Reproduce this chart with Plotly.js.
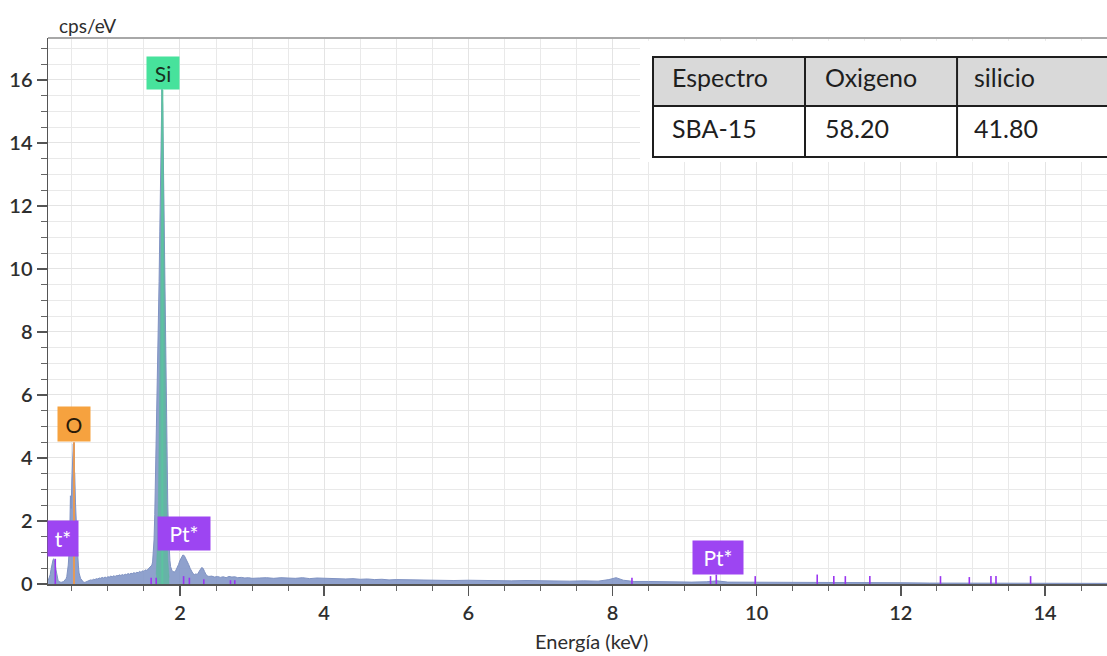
<!DOCTYPE html>
<html>
<head>
<meta charset="utf-8">
<script src="https://cdn.plot.ly/plotly-3.0.1.min.js"></script>
<style>
  html, body { margin: 0; padding: 0; background: #ffffff; }
  #chart { width: 1107px; height: 656px; }
</style>
</head>
<body>
<div id="chart"></div>
<script>
// EDS spectrum of SBA-15: energy (keV) and intensity (cps/eV)
const energy = [
  0.17, 0.18, 0.19, 0.20, 0.21, 0.22, 0.23, 0.24, 0.25, 0.26, 0.27, 0.28, 0.29, 0.30,
  0.31, 0.32, 0.33, 0.34, 0.35, 0.36, 0.37, 0.38, 0.39, 0.40, 0.41, 0.42, 0.43, 0.44,
  0.45, 0.46, 0.47, 0.48, 0.49, 0.50, 0.51, 0.52, 0.53, 0.54, 0.55, 0.56, 0.57, 0.58,
  0.59, 0.60, 0.62, 0.64, 0.66, 0.68, 0.70, 0.72, 0.74, 0.76, 0.78, 0.80,
  0.82, 0.84, 0.86, 0.88, 0.90, 0.92, 0.94, 0.96, 0.98, 1.00, 1.02, 1.04, 1.06, 1.08,
  1.10, 1.12, 1.14, 1.16, 1.18, 1.20, 1.22, 1.24, 1.26, 1.28, 1.30, 1.32, 1.34, 1.36,
  1.38, 1.40, 1.42, 1.44, 1.46, 1.48, 1.50, 1.52, 1.54, 1.56, 1.58,
  1.60, 1.61, 1.62, 1.63, 1.64, 1.65, 1.66, 1.67, 1.68, 1.69, 1.70, 1.71, 1.72, 1.73,
  1.74, 1.75, 1.76, 1.77, 1.78, 1.79, 1.80, 1.81, 1.82, 1.83, 1.84, 1.85, 1.86, 1.87,
  1.88, 1.89, 1.90, 1.92, 1.94, 1.96, 1.98, 2.00, 2.02, 2.04, 2.06, 2.08, 2.10, 2.12,
  2.14, 2.16, 2.18, 2.20, 2.22, 2.24, 2.26, 2.28, 2.30, 2.32, 2.34, 2.36, 2.38, 2.40,
  2.44, 2.48, 2.52, 2.56, 2.60, 2.64, 2.68, 2.72, 2.76, 2.80, 2.85, 2.90, 2.95, 3.00,
  3.10, 3.20, 3.30, 3.40, 3.50, 3.60, 3.70, 3.80, 3.90, 4.00, 4.10, 4.20, 4.30, 4.40,
  4.50, 4.60, 4.70, 4.80, 4.90, 5.00, 5.20, 5.40, 5.60, 5.80, 6.00, 6.20, 6.40, 6.60,
  6.80, 7.00, 7.20, 7.40, 7.60, 7.80, 7.95, 8.05, 8.15, 8.30, 8.50, 8.70, 8.90, 9.10,
  9.30, 9.45, 9.60, 9.80, 10.00, 10.30, 10.60, 10.90, 11.10, 11.40, 11.70, 12.00,
  12.40, 12.80, 13.20, 13.60, 14.00, 14.40, 14.86
];
const counts = [
  0.10, 0.15, 0.20, 0.30, 0.45, 0.60, 0.72, 0.78, 0.80, 0.72, 0.62, 0.45, 0.30, 0.18,
  0.10, 0.08, 0.06, 0.05, 0.05, 0.06, 0.06, 0.07, 0.09, 0.12, 0.14, 0.17, 0.24, 0.36,
  0.60, 0.95, 1.50, 2.80, 2.40, 3.30, 3.90, 4.45, 3.70, 3.50, 2.60, 2.20, 1.60, 1.00,
  0.60, 0.35, 0.18, 0.10, 0.06, 0.05, 0.07, 0.09, 0.11, 0.13, 0.12, 0.15,
  0.14, 0.17, 0.16, 0.19, 0.18, 0.21, 0.19, 0.22, 0.20, 0.23, 0.22, 0.25, 0.23, 0.26,
  0.24, 0.27, 0.26, 0.29, 0.27, 0.30, 0.28, 0.31, 0.30, 0.33, 0.31, 0.34, 0.33, 0.36,
  0.34, 0.37, 0.36, 0.40, 0.37, 0.42, 0.40, 0.45, 0.43, 0.48, 0.50,
  0.55, 0.60, 0.70, 0.95, 1.40, 2.20, 3.30, 4.60, 5.90, 7.00, 8.20, 9.60, 11.20, 13.00,
  14.60, 15.80, 15.20, 13.40, 10.50, 8.00, 6.40, 5.00, 3.80, 2.60, 1.70, 1.10, 0.75, 0.55,
  0.45, 0.42, 0.40, 0.38, 0.42, 0.50, 0.62, 0.75, 0.85, 0.92, 0.90, 0.82, 0.70, 0.62,
  0.50, 0.40, 0.33, 0.30, 0.32, 0.30, 0.36, 0.45, 0.52, 0.50, 0.40, 0.30, 0.26, 0.24,
  0.25, 0.22, 0.24, 0.21, 0.23, 0.20, 0.24, 0.22, 0.23, 0.20, 0.21, 0.19, 0.20, 0.18,
  0.19, 0.20, 0.18, 0.20, 0.19, 0.18, 0.20, 0.17, 0.19, 0.18, 0.17, 0.18, 0.16, 0.17,
  0.15, 0.16, 0.14, 0.15, 0.13, 0.14, 0.13, 0.12, 0.13, 0.11, 0.12, 0.11, 0.12, 0.10,
  0.11, 0.10, 0.11, 0.09, 0.10, 0.09, 0.14, 0.20, 0.12, 0.08, 0.08, 0.07, 0.07, 0.06,
  0.07, 0.10, 0.06, 0.06, 0.05, 0.05, 0.04, 0.05, 0.05, 0.04, 0.04, 0.04,
  0.03, 0.03, 0.03, 0.03, 0.03, 0.02, 0.02
];

// Si K peak fit
const siFitEnergy = [1.67, 1.68, 1.69, 1.70, 1.71, 1.72, 1.73, 1.74, 1.75, 1.76,
                     1.77, 1.78, 1.79, 1.80, 1.81, 1.82, 1.83, 1.84, 1.85];
const siFitCounts = [0.30, 0.80, 1.50, 2.60, 4.20, 6.40, 9.20, 12.2, 14.8, 15.0,
                     12.6, 9.40, 6.50, 4.20, 2.60, 1.50, 0.80, 0.40, 0.20];

// Pt line markers (keV) and their heights
const ptLines = [0.27, 1.60, 1.67, 2.05, 2.13, 2.33, 2.70, 2.76, 8.27, 9.36, 9.44,
                 9.98, 10.84, 11.07, 11.23, 11.57, 12.55, 12.95, 13.25, 13.32, 13.80];
const ptHeights = [0.80, 0.20, 0.20, 0.25, 0.20, 0.15, 0.12, 0.12, 0.20, 0.25, 0.30,
                   0.25, 0.30, 0.25, 0.25, 0.25, 0.25, 0.22, 0.25, 0.25, 0.25];

// Element labels
const labelText = ['Si', 'O', 'Pt*', 'Pt*', 't*'];
const labelEnergy = [1.765, 0.53, 2.056, 9.465, 0.378];
const labelBase = [15.68, 4.50, 1.05, 0.29, 0.86];
const labelLineEnergy = [1.755, 0.53];
const labelLineTop = [15.68, 4.50];

// Quantification table
const tableHeader = ['Espectro', 'Oxigeno', 'silicio'];
const tableRow = ['SBA-15', '58.20', '41.80'];

const FONT = 'Lato, "Open Sans", sans-serif';
const labelStyle = [
  { bg: '#47e29c', fg: '#17301f', w: 28, h: 28 },
  { bg: '#f6a23f', fg: '#2a1a08', w: 28, h: 30 },
  { bg: '#9d45f2', fg: '#ffffff', w: 48, h: 29 },
  { bg: '#9d45f2', fg: '#ffffff', w: 46, h: 29 },
  { bg: '#9d45f2', fg: '#ffffff', w: 26, h: 31 }
];
const lineColors = ['#5cc3a0', '#e49a58'];

const mx = [], my = [];
ptLines.forEach((e, i) => { mx.push(e, e, null); my.push(0, ptHeights[i], null); });

const traces = [
  {
    x: energy, y: counts, type: 'scatter', mode: 'lines',
    line: { color: '#7f92c2', width: 1 },
    fill: 'tozeroy', fillcolor: 'rgba(128,148,198,0.88)'
  },
  {
    x: siFitEnergy, y: siFitCounts, type: 'scatter', mode: 'lines',
    line: { color: 'rgba(92,180,160,0.9)', width: 0.5 },
    fill: 'tozeroy', fillcolor: 'rgba(95,182,160,0.85)'
  },
  {
    x: mx, y: my, type: 'scatter', mode: 'lines',
    line: { color: '#9a35f0', width: 1.6 }
  }
];
labelLineEnergy.forEach((e, i) => {
  traces.push({
    x: [e, e], y: [0, labelLineTop[i]], type: 'scatter', mode: 'lines',
    line: { color: lineColors[i], width: 2 }
  });
});

const annotations = [];
labelText.forEach((t, i) => {
  const s = labelStyle[i];
  annotations.push({
    x: labelEnergy[i], y: labelBase[i], xref: 'x', yref: 'y',
    xanchor: 'center', yanchor: 'bottom', showarrow: false,
    text: t, bgcolor: s.bg, width: s.w, height: s.h, borderpad: 2,
    font: { family: FONT, size: 21, color: s.fg }
  });
});

const colX = [0.5713, 0.7148, 0.8584, 1.01];
const rowY = [0.9652, 0.8755, 0.7821];
const textX = [0.5873, 0.7318, 0.8725];
const textY = [0.9286, 0.8352];
[tableHeader, tableRow].forEach((row, r) => {
  row.forEach((t, c) => {
    annotations.push({
      x: textX[c], y: textY[r], xref: 'paper', yref: 'paper',
      xanchor: 'left', yanchor: 'middle', showarrow: false, text: t,
      font: { family: FONT, size: 25, color: '#1e1e1e' }
    });
  });
});

annotations.push({
  x: 0.0085, y: 1.0238, xref: 'paper', yref: 'paper', xanchor: 'left', yanchor: 'middle',
  showarrow: false, text: 'cps/eV', font: { family: FONT, size: 19, color: '#2e2e2e' }
});
annotations.push({
  x: 0.5128, y: -0.1044, xref: 'paper', yref: 'paper', xanchor: 'center', yanchor: 'middle',
  showarrow: false, text: 'Energía (keV)', font: { family: FONT, size: 20, color: '#2e2e2e' }
});

const shapes = [
  { type: 'line', xref: 'paper', yref: 'paper', x0: 0, x1: 1, y0: 1, y1: 1,
    line: { color: '#a8a8a8', width: 2 } },
  { type: 'rect', xref: 'paper', yref: 'paper', x0: 0.559, x1: 1.0, y0: 0.773, y1: 0.995,
    fillcolor: '#ffffff', line: { width: 0 }, layer: 'above' },
  { type: 'rect', xref: 'paper', yref: 'paper', x0: colX[0], x1: colX[3], y0: rowY[1], y1: rowY[0],
    fillcolor: '#d9d9d9', line: { width: 0 }, layer: 'above' },
  { type: 'rect', xref: 'paper', yref: 'paper', x0: colX[0], x1: colX[3], y0: rowY[2], y1: rowY[0],
    fillcolor: 'rgba(0,0,0,0)', line: { color: '#1e1e1e', width: 2 }, layer: 'above' },
  { type: 'line', xref: 'paper', yref: 'paper', x0: colX[0], x1: colX[3], y0: rowY[1], y1: rowY[1],
    line: { color: '#1e1e1e', width: 2 }, layer: 'above' },
  { type: 'line', xref: 'paper', yref: 'paper', x0: colX[1], x1: colX[1], y0: rowY[2], y1: rowY[0],
    line: { color: '#1e1e1e', width: 2 }, layer: 'above' },
  { type: 'line', xref: 'paper', yref: 'paper', x0: colX[2], x1: colX[2], y0: rowY[2], y1: rowY[0],
    line: { color: '#1e1e1e', width: 2 }, layer: 'above' }
];

const tickFont = { family: FONT, size: 20, color: '#2e2e2e', weight: 600 };

const layout = {
  width: 1107, height: 656,
  margin: { l: 48, r: 0, t: 38, b: 72 },
  paper_bgcolor: '#ffffff', plot_bgcolor: '#ffffff',
  showlegend: false, hovermode: false,
  xaxis: {
    range: [0.169, 14.86], tickmode: 'linear', tick0: 0, dtick: 2,
    showgrid: true, gridcolor: '#e4e4e4', gridwidth: 1, zeroline: false,
    showline: true, linecolor: '#555555', linewidth: 1.5,
    ticks: 'outside', ticklen: 10, tickwidth: 1.5, tickcolor: '#555555',
    tickfont: tickFont,
    minor: { dtick: 0.5, tick0: 0, ticks: 'outside', ticklen: 5, tickwidth: 1,
             tickcolor: '#666666', showgrid: true, gridcolor: '#e9e9e9', gridwidth: 1 }
  },
  yaxis: {
    range: [0, 17.33], tickmode: 'linear', tick0: 0, dtick: 2,
    showgrid: true, gridcolor: '#e4e4e4', gridwidth: 1, zeroline: false,
    showline: true, linecolor: '#555555', linewidth: 1.5,
    ticks: 'outside', ticklen: 10, tickwidth: 1.5, tickcolor: '#555555',
    tickfont: tickFont,
    minor: { dtick: 0.5, tick0: 0, ticks: 'outside', ticklen: 6, tickwidth: 1,
             tickcolor: '#666666', showgrid: true, gridcolor: '#e9e9e9', gridwidth: 1 }
  },
  annotations: annotations,
  shapes: shapes
};

Plotly.newPlot('chart', traces, layout, { staticPlot: true, displayModeBar: false });
</script>
</body>
</html>
